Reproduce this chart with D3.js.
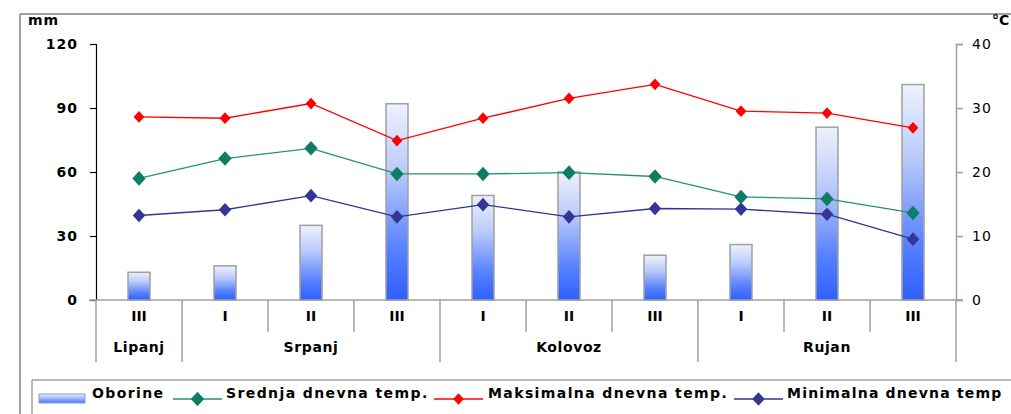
<!DOCTYPE html>
<html><head><meta charset="utf-8">
<script src="https://cdn.jsdelivr.net/npm/d3@7"></script>
<style>
body{margin:0;background:#fff;}
svg{display:block;font-family:"DejaVu Sans",sans-serif;}
</style></head><body>
<svg id="c" width="1011" height="414"></svg>
<script>
const periods = ["III","I","II","III","I","II","III","I","II","III"];
const months = [{name:"Lipanj",from:0,to:1},{name:"Srpanj",from:1,to:4},{name:"Kolovoz",from:4,to:7},{name:"Rujan",from:7,to:10}];
const oborine = [13,16,35,92,49,60,21,26,81,101];
const srednja = [19.0,22.1,23.7,19.7,19.7,19.9,19.3,16.1,15.8,13.6];
const maksimalna = [28.6,28.4,30.7,24.9,28.4,31.5,33.7,29.5,29.2,26.9];
const minimalna = [13.2,14.1,16.3,13.0,14.9,13.0,14.3,14.2,13.4,9.5];
const leftTicks = [0,30,60,90,120];
const rightTicks = [0,10,20,30,40];
const seriesNames = ["Oborine","Srednja dnevna temp.","Maksimalna dnevna temp.","Minimalna dnevna temp"];

const svg = d3.select("#c");
const X0 = 96, X1 = 956, Y0 = 300, Y1 = 44;
const x = d3.scaleBand().domain(d3.range(periods.length)).range([X0,X1]).paddingInner(0).paddingOuter(0);
const yL = d3.scaleLinear().domain([0,120]).range([Y0,Y1]);
const yR = d3.scaleLinear().domain([0,40]).range([Y0,Y1]);
const cx = i => x(i) + x.bandwidth()/2;

const defs = svg.append("defs");
const g = defs.append("linearGradient").attr("id","barg").attr("x1",0).attr("y1",0).attr("x2",0).attr("y2",1);
g.append("stop").attr("offset","0%").attr("stop-color","#eef1fd");
g.append("stop").attr("offset","35%").attr("stop-color","#b9c9fb");
g.append("stop").attr("offset","75%").attr("stop-color","#5580fe");
g.append("stop").attr("offset","100%").attr("stop-color","#2f5fff");

svg.append("line").attr("x1",20).attr("x2",1011).attr("y1",14).attr("y2",14).attr("stroke","#a0a0a0").attr("stroke-width",2);
svg.append("line").attr("x1",20).attr("x2",20).attr("y1",14).attr("y2",414).attr("stroke","#a0a0a0").attr("stroke-width",2);

svg.append("text").attr("x",28).attr("y",25).attr("font-weight","bold").attr("font-size",14).attr("letter-spacing",1).text("mm");
svg.append("text").attr("x",992).attr("y",25).attr("font-weight","bold").attr("font-size",14).text("°C");

const la = svg.append("g").attr("transform",`translate(${X0},0)`)
  .call(d3.axisLeft(yL).tickValues(leftTicks).tickSize(6).tickPadding(12));
la.select(".domain").attr("stroke","#000").attr("stroke-width",1.2);
la.selectAll(".tick line").attr("stroke","#000").attr("stroke-width",1.2);
la.selectAll("text").attr("font-weight","bold").attr("font-size",14).attr("font-family","DejaVu Sans").attr("letter-spacing",1).attr("fill","#000");

const ra = svg.append("g").attr("transform",`translate(${X1},0)`)
  .call(d3.axisRight(yR).tickValues(rightTicks).tickSize(7).tickPadding(9));
ra.select(".domain").attr("stroke","#a0a0a0").attr("stroke-width",1.5);
ra.selectAll(".tick line").attr("stroke","#a0a0a0").attr("stroke-width",1.5);
ra.selectAll("text").attr("font-size",14).attr("font-family","DejaVu Sans").attr("letter-spacing",1).attr("fill","#000");

svg.append("line").attr("x1",89).attr("x2",963).attr("y1",Y0).attr("y2",Y0).attr("stroke","#a0a0a0").attr("stroke-width",1.5);
const monthBounds = new Set(months.flatMap(m=>[m.from,m.to]));
d3.range(periods.length+1).forEach(i=>{
  const xx = i<periods.length ? x(i) : X1;
  svg.append("line").attr("x1",xx).attr("x2",xx).attr("y1",Y0).attr("y2",monthBounds.has(i)?362:332)
    .attr("stroke","#a0a0a0").attr("stroke-width",1.5);
});
svg.append("g").selectAll("text").data(periods).join("text")
  .attr("x",(d,i)=>cx(i)).attr("y",321).attr("text-anchor","middle").attr("font-weight","bold").attr("font-size",14).text(d=>d);
svg.append("g").selectAll("text").data(months).join("text")
  .attr("x",d=>(x(d.from)+(d.to<periods.length?x(d.to):X1))/2).attr("y",352).attr("text-anchor","middle").attr("font-weight","bold").attr("font-size",14).attr("letter-spacing",0.6).text(d=>d.name);

const bw = 22;
svg.append("g").selectAll("rect").data(oborine).join("rect")
  .attr("x",(d,i)=>cx(i)-bw/2).attr("width",bw)
  .attr("y",d=>yL(d)).attr("height",d=>Y0-yL(d))
  .attr("fill","url(#barg)").attr("stroke","#a0a0a0").attr("stroke-width",1.5);

const series = [
  {data:minimalna,color:"#333399",mk:"#353596",size:75},
  {data:srednja,color:"#24936e",mk:"#0f7d66",size:85},
  {data:maksimalna,color:"#ff0000",mk:"#ff0000",size:55}
];
const line = d3.line().x((d,i)=>cx(i)).y(d=>yR(d));
series.forEach(s=>{
  svg.append("path").datum(s.data).attr("d",line).attr("fill","none").attr("stroke",s.color).attr("stroke-width",1.3);
  svg.append("g").selectAll("path").data(s.data).join("path")
    .attr("transform",(d,i)=>`translate(${cx(i)},${yR(d)}) scale(1.35,0.85)`)
    .attr("d",d3.symbol(d3.symbolDiamond,s.size)).attr("fill",s.mk);
});

svg.append("line").attr("x1",32).attr("x2",1011).attr("y1",380).attr("y2",380).attr("stroke","#a0a0a0").attr("stroke-width",1.5);
svg.append("line").attr("x1",32).attr("x2",32).attr("y1",380).attr("y2",414).attr("stroke","#a0a0a0").attr("stroke-width",1.5);
const lg = defs.append("linearGradient").attr("id","legg").attr("x1",0).attr("y1",0).attr("x2",0).attr("y2",1);
lg.append("stop").attr("offset","0%").attr("stop-color","#eef1fd");
lg.append("stop").attr("offset","100%").attr("stop-color","#4a74fe");
svg.append("rect").attr("x",39).attr("y",394).attr("width",46).attr("height",9).attr("fill","url(#legg)").attr("stroke","#8a9ad0").attr("stroke-width",1);
svg.append("text").attr("x",92).attr("y",398).attr("font-weight","bold").attr("font-size",14).attr("letter-spacing",1.4).text(seriesNames[0]);
const legItems = [
  {x:173,tx:226,color:"#24936e",mk:"#0f7d66",name:seriesNames[1],size:85,ls:1.4},
  {x:434,tx:488,color:"#ff0000",mk:"#ff0000",name:seriesNames[2],size:55,ls:1.4},
  {x:734,tx:787,color:"#333399",mk:"#353596",name:seriesNames[3],size:75,ls:1.2}
];
legItems.forEach(l=>{
  svg.append("line").attr("x1",l.x).attr("x2",l.x+49).attr("y1",399).attr("y2",399).attr("stroke",l.color).attr("stroke-width",1.3);
  svg.append("path").attr("transform",`translate(${l.x+24.5},399) scale(1.35,0.85)`).attr("d",d3.symbol(d3.symbolDiamond,l.size)).attr("fill",l.mk);
  svg.append("text").attr("x",l.tx).attr("y",398).attr("font-weight","bold").attr("font-size",14).attr("letter-spacing",l.ls).text(l.name);
});
</script></body></html>
